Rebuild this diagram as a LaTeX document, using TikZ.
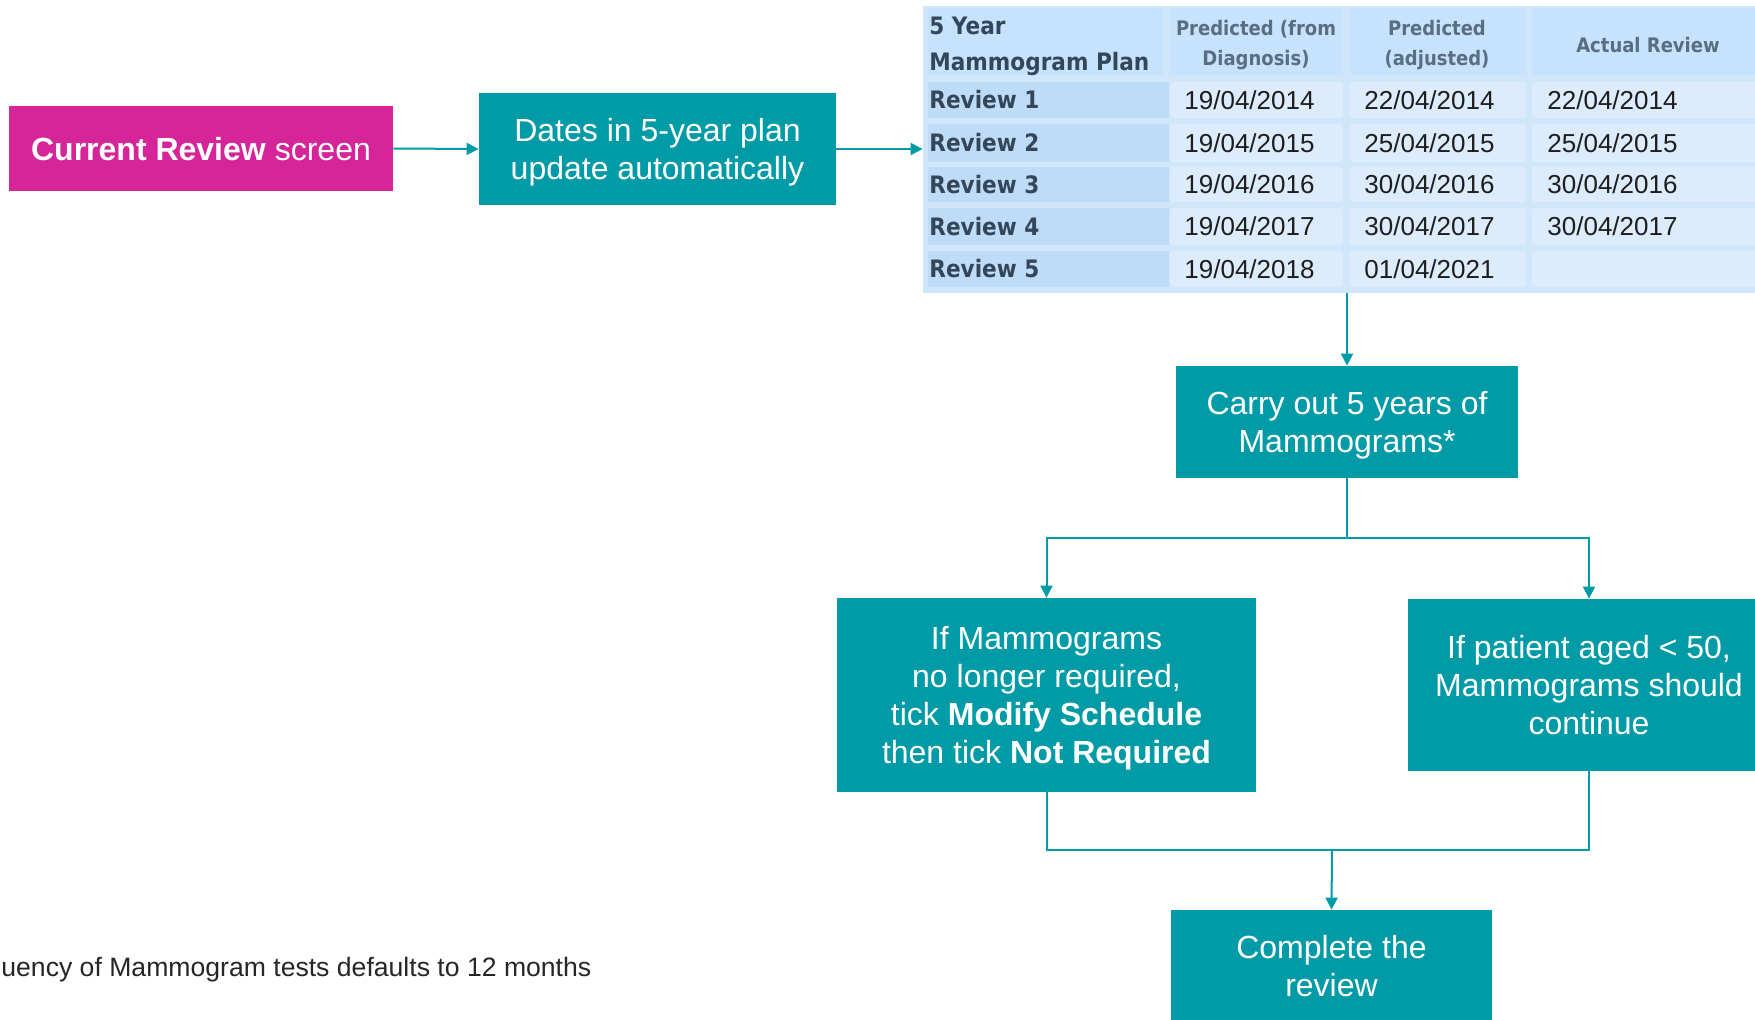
\documentclass[tikz,border=0pt]{standalone}
\usepackage{fontspec}
\setmainfont{Liberation Sans}
\newfontfamily\tabfont[FakeStretch=0.9]{DejaVu Sans}
\usetikzlibrary{arrows.meta}

\definecolor{flowteal}{HTML}{009BA6}
\definecolor{crmagenta}{HTML}{D52598}
\definecolor{planframe}{HTML}{CFE6FB}
\definecolor{planhead}{HTML}{C6E2FC}
\definecolor{planlabel}{HTML}{BEDBF7}
\definecolor{plandata}{HTML}{DCECFD}
\definecolor{headtext}{HTML}{34475A}
\definecolor{headsoft}{HTML}{5A6E82}
\definecolor{datetext}{HTML}{1E1E1E}
\definecolor{notetext}{HTML}{262626}

\begin{document}
\begin{tikzpicture}[x=0.5pt,y=-0.5pt,
  box/.style={fill=flowteal, text=white, inner sep=0pt, align=center,
    text depth=-3pt, font=\fontsize{16pt}{19pt}\selectfont},
  link/.style={draw=flowteal, line width=1pt},
  arr/.style={link, -{Triangle[length=6pt,width=6pt]}},
  cellhead/.style={fill=planhead},
  celllabel/.style={fill=planlabel},
  celldata/.style={fill=plandata, rounded corners=1.5pt},
  headmain/.style={text=headtext, inner sep=0pt, align=left,
    font=\tabfont\bfseries\fontsize{12pt}{18pt}\selectfont},
  headsmall/.style={text=headsoft, inner sep=0pt, align=center,
    font=\tabfont\bfseries\fontsize{10pt}{15pt}\selectfont},
  rowlabel/.style={text=headtext, inner sep=0pt, anchor=west,
    font=\tabfont\bfseries\fontsize{12pt}{14pt}\selectfont},
  datecell/.style={text=datetext, inner sep=0pt, anchor=west,
    font=\fontsize{13pt}{15pt}\selectfont}]

\clip (0,0) rectangle (1755,1019);
\fill[white] (0,0) rectangle (1755,1019);

% ---- first row of the flow ----
\node[box, fill=crmagenta, minimum width=192pt, minimum height=42.5pt] (cr) at (201,148.5)
  {\textbf{Current Review} screen};
\node[box, minimum width=178.5pt, minimum height=56pt] (dates) at (657.5,149)
  {Dates in 5-year plan\\update automatically};

% ---- 5 year plan table ----
\node[fill=planframe, inner sep=0pt, minimum width=423.5pt, minimum height=143.5pt] (plan) at (1346.5,149.5) {};

% header cells
\fill[cellhead] (928,8) rectangle (1163,75);
\fill[cellhead] (1169,8) rectangle (1343,75);
\fill[cellhead] (1350,8) rectangle (1526,75);
\fill[cellhead] (1532,8) rectangle (1775,75);
\node[headmain, anchor=west] (h1) at (929,46) {5 Year\\Mammogram Plan};
\node[headsmall] (h2) at (1256,45) {Predicted (from\\Diagnosis)};
\node[headsmall] (h3) at (1437,45) {Predicted\\(adjusted)};
\node[headsmall] (h4) at (1648,45) {Actual Review};

% body rows: top, bottom, label, three dates
\foreach \t/\b/\lab/\da/\db/\dc [count=\i] in {
    82/118/Review 1/19\slash 04\slash 2014/22\slash 04\slash 2014/22\slash 04\slash 2014,
    124/162/Review 2/19\slash 04\slash 2015/25\slash 04\slash 2015/25\slash 04\slash 2015,
    167/202/Review 3/19\slash 04\slash 2016/30\slash 04\slash 2016/30\slash 04\slash 2016,
    208/245/Review 4/19\slash 04\slash 2017/30\slash 04\slash 2017/30\slash 04\slash 2017,
    251/287/Review 5/19\slash 04\slash 2018/01\slash 04\slash 2021/} {
  \fill[celllabel] (928,\t) rectangle (1169,\b);
  \fill[celldata] (1170,\t) rectangle (1343,\b);
  \fill[celldata] (1350,\t) rectangle (1526,\b);
  \fill[celldata] (1532,\t) rectangle (1775,\b);
  \pgfmathsetmacro{\mid}{(\t+\b)/2}
  \node[rowlabel] (r\i) at (929,\mid) {\lab};
  \node[datecell] (r\i a) at (1184,\mid) {\da};
  \node[datecell] (r\i b) at (1364,\mid) {\db};
  \node[datecell] (r\i c) at (1547,\mid) {\dc};
}

% ---- lower boxes ----
\node[box, minimum width=171pt, minimum height=56pt] (carry) at (1347,422)
  {Carry out 5 years of\\Mammograms*};
\node[box, minimum width=209.5pt, minimum height=97pt] (left) at (1046.5,695)
  {If Mammograms\\no longer required,\\tick \textbf{Modify Schedule}\\then tick \textbf{Not Required}};
\node[box, minimum width=181pt, minimum height=86pt] (right) at (1589,685)
  {If patient aged < 50,\\Mammograms should\\continue};
\node[box, minimum width=160.5pt, minimum height=56pt] (complete) at (1331.5,966)
  {Complete the\\review};

\node[text=notetext, inner sep=0pt, anchor=base west,
  font=\fontsize{13.3pt}{16pt}\selectfont] (note) at (1,976)
  {uency of Mammogram tests defaults to 12 months};

% ---- connectors ----
\coordinate (split) at (1347,538);
\coordinate (merge) at (1332,850);
\draw[arr] (cr.east) -- (dates.west);
\draw[arr] (dates.east) -- (dates.east -| plan.west);
\draw[arr] (carry.north |- plan.south) -- (carry.north);
\draw[link] (carry.south) -- (split);
\draw[arr] (split) -| (left.north);
\draw[arr] (split) -| (right.north);
\draw[link] (left.south) |- (merge);
\draw[link] (right.south) |- (merge);
\draw[arr] (merge) -- (complete.north);
\end{tikzpicture}
\end{document}
